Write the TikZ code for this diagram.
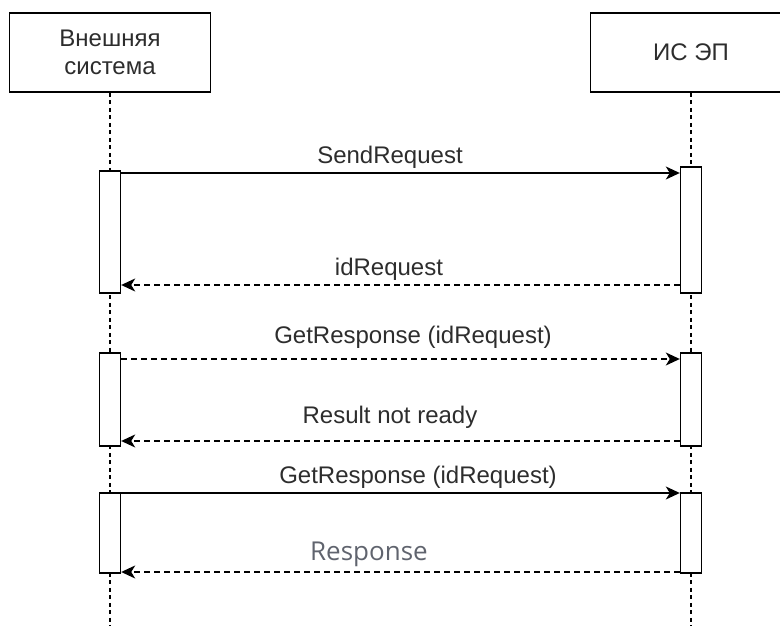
\documentclass[tikz,border=0pt]{standalone}
\usepackage{fontspec}
\setmainfont{Liberation Sans}
\newfontfamily\respfont{Open Sans}
\usetikzlibrary{arrows.meta}
\definecolor{txtgray}{RGB}{45,45,45}
\definecolor{respgray}{RGB}{96,100,110}

\begin{document}
\begin{tikzpicture}[x=1pt,y=-1pt,>={Stealth[length=14pt,width=13pt,inset=4pt]},
  font=\fontsize{24}{28}\selectfont]
  % styles
  \tikzstyle{actor} = [rectangle,draw=black,line width=1.8pt,fill=white,minimum width=201pt,minimum height=79pt,align=center,text=txtgray,inner sep=0pt];
  \tikzstyle{actbar} = [rectangle,draw=black,line width=1.4pt,fill=white,minimum width=21pt,inner sep=0pt];
  \tikzstyle{life} = [line width=1.4pt,dash pattern=on 4pt off 3.5pt];
  \tikzstyle{call} = [->,line width=1.3pt];
  \tikzstyle{reply} = [->,line width=1.3pt,dash pattern=on 6pt off 4pt];
  \tikzstyle{lbl} = [anchor=base,inner sep=0pt,text=txtgray];

  \useasboundingbox (0,0) rectangle (780,626);
  \clip (0,0) rectangle (780,626);

  % participants
  \node[actor] (ext) at (110,52.5) {Внешняя\\система};
  \node[actor] (ep) at (691,52.5) {ИС ЭП};
  \coordinate (extend) at (110,626);
  \coordinate (epend) at (691,626);

  % lifelines
  \draw[life] (ext) -- (extend);
  \draw[life] (ep) -- (epend);

  % activation bars
  \node[actbar,minimum height=122pt] (ext1) at (110,232) {};
  \node[actbar,minimum height=126pt] (ep1) at (691,230) {};
  \node[actbar,minimum height=93pt] (ext2) at (110,399.5) {};
  \node[actbar,minimum height=93pt] (ep2) at (691,399.5) {};
  \node[actbar,minimum height=80pt] (ext3) at (110,533) {};
  \node[actbar,minimum height=80pt] (ep3) at (691,533) {};

  % messages
  \draw[call] (ext1.east |- 0,173) -- (ep1.west |- 0,173);
  \draw[reply] (ep1.west |- 0,285) -- (ext1.east |- 0,285);
  \draw[reply] (ext2.east |- 0,359) -- (ep2.west |- 0,359);
  \draw[reply] (ep2.west |- 0,441) -- (ext2.east |- 0,441);
  \draw[call] (ext3.east |- 0,493) -- (ep3.west |- 0,493);
  \draw[reply] (ep3.west |- 0,572) -- (ext3.east |- 0,572);

  % labels
  \node[lbl] (sendreq) at (390,163) {SendRequest};
  \node[lbl] (idreq) at (389,275) {idRequest};
  \node[lbl] (getresp1) at (413,343) {GetResponse (idRequest)};
  \node[lbl] (notready) at (390,423) {Result not ready};
  \node[lbl] (getresp2) at (418,483) {GetResponse (idRequest)};
  \node[lbl,font=\respfont\fontsize{26}{30}\selectfont,text=respgray] (resp) at (369,560) {Response};
\end{tikzpicture}
\end{document}
